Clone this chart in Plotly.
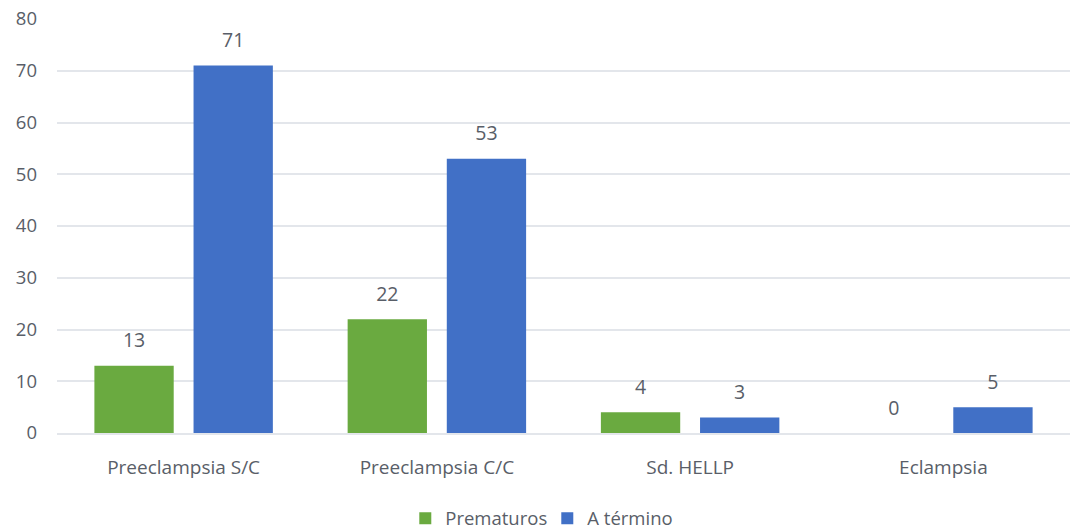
import plotly.graph_objects as go

categories = ["Preeclampsia S/C", "Preeclampsia C/C", "Sd. HELLP", "Eclampsia"]
prematuros = [13, 22, 4, 0]
a_termino = [71, 53, 3, 5]
y_ticks = [0, 10, 20, 30, 40, 50, 60, 70, 80]

font_family = "Open Sans, Noto Sans, sans-serif"
txt_color = "#595e68"
green = "#6aaa40"
blue = "#4170c6"

fig = go.Figure()
for name, vals, col in [("Prematuros", prematuros, green), ("A término", a_termino, blue)]:
    fig.add_trace(go.Bar(
        name=name, x=categories, y=vals,
        marker=dict(color=col, line=dict(width=0)),
        legendgroup=name,
    ))
for name, vals in [("Prematuros", prematuros), ("A término", a_termino)]:
    fig.add_trace(go.Scatter(
        x=categories, y=vals, mode="markers+text",
        text=[str(v) for v in vals], textposition="top center",
        textfont=dict(size=19.5, color=txt_color, family=font_family),
        marker=dict(size=20, opacity=0),
        showlegend=False, hoverinfo="skip", cliponaxis=False,
        legendgroup=name,
    ))

fig.update_layout(
    width=1073, height=532,
    margin=dict(l=57, r=3, t=19, b=99, autoexpand=False),
    paper_bgcolor="white", plot_bgcolor="white",
    barmode="group", bargap=0.217, bargroupgap=0.2,
    scattermode="group", scattergap=0.217,
    font=dict(family=font_family, size=18, color=txt_color),
    showlegend=True,
    legend=dict(orientation="h", x=0.484, xanchor="center", y=-0.207, yanchor="middle",
                font=dict(size=18.5, color=txt_color), itemwidth=30, entrywidth=97,
                traceorder="normal"),
    yaxis=dict(range=[0, 80], tickvals=y_ticks, showgrid=True, gridcolor="#e3e6eb",
               gridwidth=1.5, zeroline=False, showline=False, automargin=False,
               tickfont=dict(size=18.5, color=txt_color), ticklabelstandoff=19),
    xaxis=dict(showline=True, linecolor="#e3e6eb", linewidth=1.5, automargin=False,
               tickfont=dict(size=19, color=txt_color), ticklabelstandoff=16),
)

fig.write_html("out.html")
